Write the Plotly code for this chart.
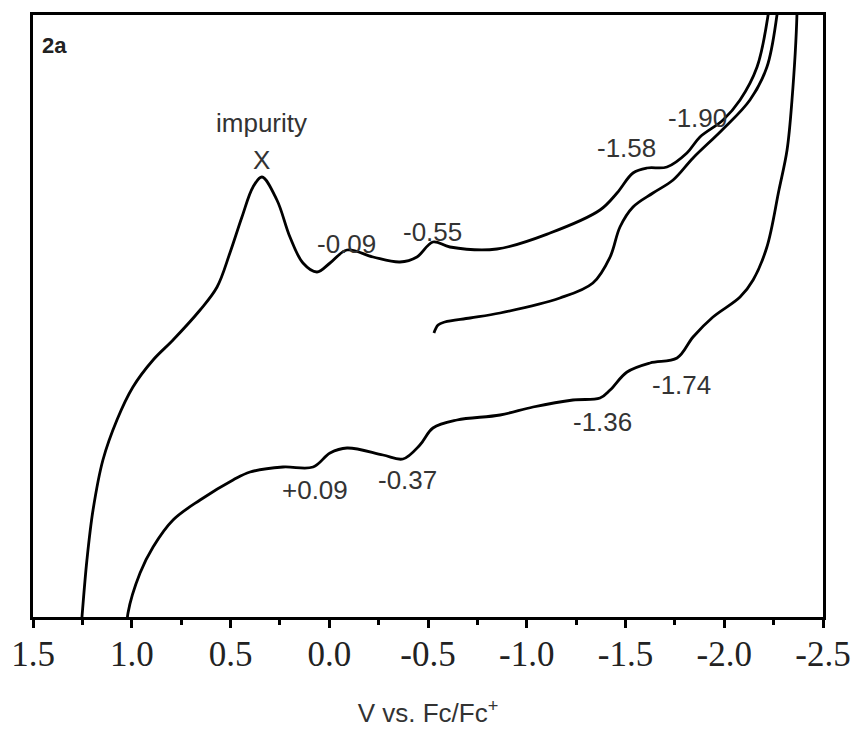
import plotly.graph_objects as go

# Cyclic voltammogram, three sweep segments (V vs Fc/Fc+, current in arbitrary units)
# Segment 1: initial sweep from -0.53 V toward negative potentials
sweep1_v = [-0.530, -0.551, -0.585, -0.713, -0.865, -1.168, -1.335, -1.422, -1.472, -1.538,
            -1.639, -1.741, -1.842, -1.989, -2.130, -2.216, -2.267, -2.287]
sweep1_i = [284, 292, 295, 299, 304, 319, 334, 360, 390, 410,
            424, 437, 459, 487, 517, 550, 602, 640]

# Segment 2: return sweep from -2.37 V toward positive potentials
sweep2_v = [-2.368, -2.368, -2.343, -2.318, -2.277, -2.216, -2.146, -2.080, -1.943, -1.842,
            -1.761, -1.624, -1.508, -1.422, -1.371, -1.234, -1.032, -0.865, -0.647, -0.525,
            -0.459, -0.373, -0.272, -0.090, -0.004, 0.082, 0.234, 0.401, 0.487, 0.654,
            0.791, 0.892, 0.958, 1.019, 1.024]
sweep2_i = [640, 602, 517, 467, 427, 370, 337, 320, 300, 280,
            259, 254, 245, 227, 219, 217, 210, 202, 197, 189,
            172, 158, 162, 169, 164, 150, 150, 145, 137, 117,
            97, 70, 44, 4, -13]

# Segment 3: second sweep from +1.25 V toward negative potentials
sweep3_v = [1.257, 1.252, 1.227, 1.196, 1.146, 1.075, 0.994, 0.892, 0.791, 0.654,
            0.568, 0.503, 0.442, 0.386, 0.341, 0.265, 0.199, 0.133, 0.062, -0.004,
            -0.090, -0.222, -0.358, -0.444, -0.525, -0.611, -0.849, -1.118, -1.371, -1.457,
            -1.538, -1.609, -1.710, -1.811, -1.877, -1.994, -2.080, -2.166, -2.222, -2.242]
sweep3_i = [-13, 0, 57, 107, 157, 197, 230, 257, 277, 307,
            330, 364, 400, 430, 440, 417, 380, 354, 345, 354,
            367, 360, 355, 360, 375, 370, 368, 384, 407, 424,
            444, 449, 450, 464, 480, 497, 517, 550, 602, 640]

peak_labels = ["-0.09", "-0.55", "-1.58", "-1.90", "-1.74", "-1.36", "+0.09", "-0.37"]
peak_x = [-0.085, -0.525, -1.503, -1.862, -1.786, -1.386, 0.072, -0.394]
peak_y = [373, 385, 469, 499, 232, 195, 127, 137]

tick_vals = [1.5, 1.0, 0.5, 0.0, -0.5, -1.0, -1.5, -2.0, -2.5]
tick_text = ["1.5", "1.0", "0.5", "0.0", "-0.5", "-1.0", "-1.5", "-2.0", "-2.5"]

fig = go.Figure()
line_style = dict(color="black", width=2.8, shape="spline", smoothing=1.0)
for vx, iy in [(sweep1_v, sweep1_i), (sweep2_v, sweep2_i), (sweep3_v, sweep3_i)]:
    fig.add_trace(go.Scatter(x=vx, y=iy, mode="lines", line=line_style,
                             showlegend=False, hoverinfo="skip"))

label_font = dict(family="Liberation Sans, Arial, sans-serif", size=26, color="#333333")
for t, xv, yv in zip(peak_labels, peak_x, peak_y):
    fig.add_annotation(x=xv, y=yv, text=t, showarrow=False, font=label_font)

fig.add_annotation(x=0.341, y=494, text="impurity", showarrow=False, font=label_font)
fig.add_annotation(x=0.341, y=457, text="X", showarrow=False, font=label_font)
fig.add_annotation(xref="paper", yref="paper", x=0.009, y=0.95, xanchor="left", yanchor="middle",
                   text="<b>2a</b>", showarrow=False,
                   font=dict(family="Liberation Sans, Arial, sans-serif", size=22, color="#222222"))

fig.update_layout(
    width=856, height=729,
    margin=dict(l=33, r=33, t=15, b=112, autoexpand=False),
    plot_bgcolor="white", paper_bgcolor="white",
    xaxis=dict(
        range=[1.5, -2.5], showgrid=False, zeroline=False, automargin=False,
        showline=True, linecolor="black", linewidth=2.5, mirror=True,
        tickmode="array", tickvals=tick_vals, ticktext=tick_text,
        ticks="outside", ticklen=8, tickwidth=2.5, tickcolor="black",
        minor=dict(dtick=0.25, tick0=0, ticks="outside", ticklen=5, tickwidth=2.5, tickcolor="black"),
        tickfont=dict(family="Liberation Serif, Times New Roman, serif", size=35, color="#222222"),
        ticklabelstandoff=-4,
        title=dict(text="V vs. Fc/Fc<sup>+</sup>",
                   font=dict(family="Liberation Sans, Arial, sans-serif", size=26, color="#333333"),
                   standoff=32),
    ),
    yaxis=dict(
        range=[0, 602], showgrid=False, zeroline=False, showticklabels=False, ticks="",
        showline=True, linecolor="black", linewidth=2.5, mirror=True, automargin=False,
    ),
)

fig.write_html("out.html")
